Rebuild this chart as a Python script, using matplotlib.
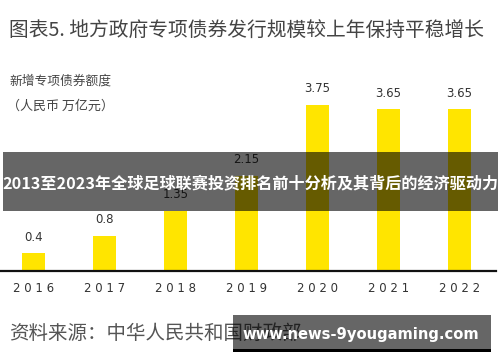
import matplotlib
matplotlib.use("Agg")
import matplotlib.pyplot as plt
from matplotlib.patches import Rectangle

plt.rcParams['font.family'] = ['Noto Sans CJK SC', 'DejaVu Sans']

years = ["2016", "2017", "2018", "2019", "2020", "2021", "2022"]
values = [0.4, 0.8, 1.35, 2.15, 3.75, 3.65, 3.65]
value_labels = ["0.4", "0.8", "1.35", "2.15", "3.75", "3.65", "3.65"]

title = "图表5. 地方政府专项债券发行规模较上年保持平稳增长"
ylabel1 = "新增专项债券额度"
ylabel2 = "（人民币 万亿元）"
source = "资料来源：中华人民共和国财政部"
banner = "2013至2023年全球足球联赛投资排名前十分析及其背后的经济驱动力"
watermark = "www.news-9yougaming.com"

W, H = 500, 362
fig = plt.figure(figsize=(W / 100, H / 100), dpi=100)
fig.patch.set_facecolor("white")

def fx(px):
    return px / W

def fy(py):
    return (H - py) / H

# axes: baseline at y=271px, top at y=60px, x from 0 to 496px
ax = fig.add_axes([0, fy(271), fx(496), fy(60) - fy(271)])
x = list(range(len(years)))
ax.bar(x, values, width=0.325, color="#FFE500", zorder=2)
ax.set_xlim(-0.4718, 6.514)
ax.set_ylim(0, 211 / 44.3)
for s in ["top", "left", "right"]:
    ax.spines[s].set_visible(False)
ax.spines["bottom"].set_color("#111111")
ax.spines["bottom"].set_linewidth(1.6)
ax.set_yticks([])
ax.set_xticks(x)
ax.set_xticklabels([" ".join(y) for y in years], fontsize=8.5, color="#333333",
                   family=["DejaVu Sans"])
ax.tick_params(axis="x", length=0, pad=8)
ax.set_facecolor("none")
for xi, v, lab in zip(x, values, value_labels):
    ax.annotate(lab, (xi, v), xytext=(0, 7), textcoords="offset points",
                ha="center", va="bottom", fontsize=8.5, color="#333333",
                family=["DejaVu Sans"])

fig.text(fx(9), fy(31), title, fontsize=14.2, color="#444444", va="center", ha="left")
fig.text(fx(9), fy(81), ylabel1, fontsize=9.2, color="#444444", va="center", ha="left")
fig.text(fx(7), fy(106), ylabel2, fontsize=9.4, color="#444444", va="center", ha="left")
fig.text(fx(9), fy(333), source, fontsize=14, color="#555555", va="center", ha="left")

# overlay banner
fig.patches.append(Rectangle((fx(3), fy(211)), fx(498) - fx(3), fy(152) - fy(211),
                             transform=fig.transFigure, facecolor="black", alpha=0.6,
                             edgecolor="none", zorder=5))
fig.text(fx(250), fy(183), banner, fontsize=11.6, color="white", weight="bold",
         va="center", ha="center", zorder=6)

# watermark box
fig.patches.append(Rectangle((fx(233), fy(349)), fx(491) - fx(233), fy(315) - fy(349),
                             transform=fig.transFigure, facecolor="black", alpha=0.6,
                             edgecolor="none", zorder=5))
fig.patches.append(Rectangle((fx(233), fy(352)), fx(491) - fx(233), fy(349) - fy(352),
                             transform=fig.transFigure, facecolor="black",
                             edgecolor="none", zorder=5))
fig.text(fx(361), fy(334), watermark, fontsize=10.6, color="white", weight="bold",
         va="center", ha="center", zorder=6, family=["DejaVu Sans"])

fig.savefig("out.png", dpi=100)
